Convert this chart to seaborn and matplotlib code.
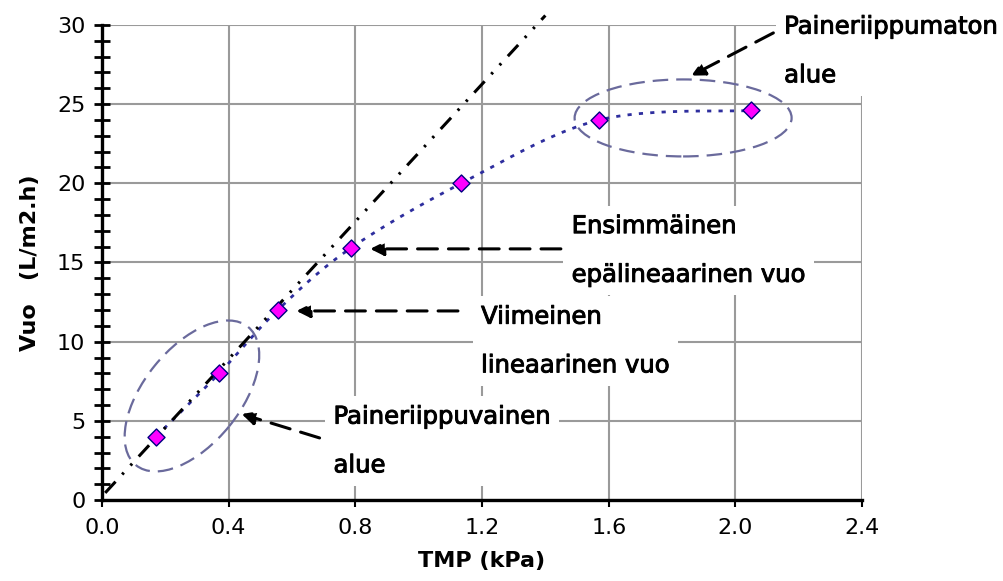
import numpy as np
import pandas as pd
import matplotlib
matplotlib.use("Agg")
import matplotlib.pyplot as plt
import matplotlib.patheffects as pe
import seaborn as sns
from matplotlib.patches import Ellipse
from matplotlib.transforms import ScaledTranslation
from matplotlib.ticker import MultipleLocator

# mitatut pisteet
tmp = [0.17, 0.37, 0.555, 0.785, 1.135, 1.57, 2.05]
flux = [4.0, 8.0, 12.0, 15.9, 20.0, 24.0, 24.6]

# suora (lineaarinen alue)
trend_tmp = [0.01, 1.40]
trend_flux = [0.45, 30.6]

x_ticks = [0.0, 0.4, 0.8, 1.2, 1.6, 2.0, 2.4]
y_ticks = [0, 5, 10, 15, 20, 25, 30]

notes = ["Paineriippumaton\nalue",
         "Ensimmäinen\nepälineaarinen vuo",
         "Viimeinen\nlineaarinen vuo",
         "Paineriippuvainen\nalue"]
note_xy = [(2.154, 28.36), (1.483, 15.76), (1.197, 10.04), (0.731, 3.73)]
arrow_tail = [(2.12, 29.5), (1.449, 15.86), (1.124, 11.94), (0.687, 3.92)]
arrow_tip = [(1.861, 26.8), (0.847, 15.86), (0.614, 11.94), (0.441, 5.43)]

# ellipsit: keskipiste (data), leveys/korkeus pikseleinä, kulma
ell_centre = [(0.284, 6.57), (1.835, 24.13)]
ell_size = [(178, 96, 51), (217, 77, 0)]

df = pd.DataFrame({"TMP": tmp, "Vuo": flux})


def excel_smooth(xs, ys, n=25):
    # Excelin "tasoitettu viiva" -tyylinen Bezier-käyrä
    p = np.column_stack([xs, ys])
    pts = np.vstack([p[0], p, p[-1]])
    out = [p[0]]
    t = np.linspace(0, 1, n)[1:, None]
    for i in range(1, len(pts) - 2):
        p0, p1, p2, p3 = pts[i - 1], pts[i], pts[i + 1], pts[i + 2]
        c1 = p1 + (p2 - p0) / 6
        c2 = p2 - (p3 - p1) / 6
        seg = (1 - t) ** 3 * p1 + 3 * (1 - t) ** 2 * t * c1 + 3 * (1 - t) * t ** 2 * c2 + t ** 3 * p2
        out.extend(seg)
    return np.array(out)


sns.set_theme(style="white")
plt.rcParams['font.family'] = ['DejaVu Sans']
plt.rcParams['text.color'] = 'black'
plt.rcParams['axes.labelcolor'] = 'black'

fig = plt.figure(figsize=(10.04, 5.81), dpi=100)
ax = fig.add_axes([0.1016, 0.1394, 0.757, 0.8176])

ax.set_xlim(0, 2.4)
ax.set_ylim(0, 30)
ax.set_axisbelow(True)
ax.grid(True, color="#9a9a9a", lw=1.5)

smooth = excel_smooth(tmp, flux)
ax.plot(smooth[:, 0], smooth[:, 1], color="#2e2e9e", lw=2, ls=(0, (1.5, 2.6)), zorder=2)

sns.lineplot(x=trend_tmp, y=trend_flux, ax=ax, color="black", lw=2.2,
             linestyle=(0, (5, 3.2, 0.8, 3.2, 0.8, 3.2)), clip_on=False, zorder=3)

sns.scatterplot(data=df, x="TMP", y="Vuo", ax=ax, marker="D", s=75,
                color="#ff00ff", edgecolor="#000080", linewidth=1, zorder=4)

for (cx, cy), (w, h, ang) in zip(ell_centre, ell_size):
    trans = fig.dpi_scale_trans + ScaledTranslation(cx, cy, ax.transData)
    ax.add_patch(Ellipse((0, 0), w / 100, h / 100, angle=ang, transform=trans,
                         fill=False, edgecolor="#6a6a9c", lw=1.6,
                         ls=(0, (7, 3.6)), zorder=3))

for txt, (tx, ty) in zip(notes, note_xy):
    ax.text(tx, ty, txt, fontsize=17.5, ha="left", va="center", linespacing=2.3,
            color="black", clip_on=False, zorder=6,
            path_effects=[pe.withStroke(linewidth=0.7, foreground="black")],
            bbox=dict(boxstyle="square,pad=0.35", fc="white", ec="none"))

for tail, tip in zip(arrow_tail, arrow_tip):
    ax.annotate("", xy=tip, xytext=tail, annotation_clip=False, zorder=7,
                arrowprops=dict(arrowstyle="-|>", color="black", lw=2.2,
                                ls=(0, (6.5, 3.6)), shrinkA=0, shrinkB=0,
                                mutation_scale=20))

ax.set_xticks(x_ticks)
ax.set_xticklabels([f"{v:.1f}" for v in x_ticks])
ax.set_yticks(y_ticks)
ax.yaxis.set_minor_locator(MultipleLocator(1))
ax.tick_params(axis="y", which="both", direction="inout", length=12, width=2,
               color="black", labelcolor="black", labelsize=16, pad=6, left=True)
ax.tick_params(axis="x", which="major", direction="out", length=5, width=1.5,
               color="black", labelcolor="black", labelsize=16, pad=8, bottom=True)

for side in ["top", "right"]:
    ax.spines[side].set_visible(False)
for side in ["left", "bottom"]:
    ax.spines[side].set_color("black")
    ax.spines[side].set_linewidth(2.4)

ax.set_xlabel("TMP (kPa)", fontsize=16, fontweight="bold", labelpad=9)
ax.set_ylabel("Vuo   (L/m2.h)", fontsize=16, fontweight="bold", labelpad=12)

fig.savefig("out.png", dpi=100)
